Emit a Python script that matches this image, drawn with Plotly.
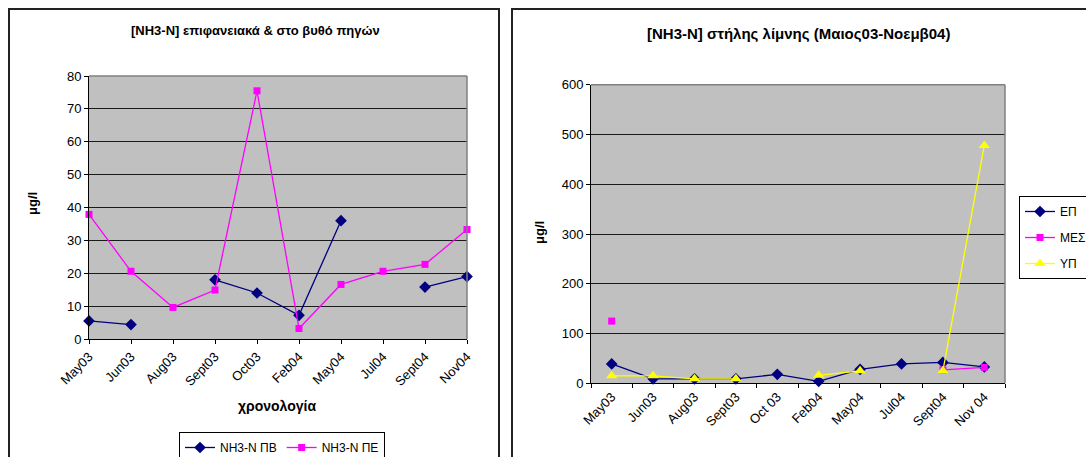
import plotly.graph_objects as go

W, H = 1086, 457

# Surface / bottom sampling at the springs
left_months = ["May03", "Jun03", "Aug03", "Sept03", "Oct03", "Feb04",
               "May04", "Jul04", "Sept04", "Nov04"]
nh3_pv = [5.5, 4.4, None, 18.0, 14.0, 7.2, 36.0, None, 15.8, 19.0]
nh3_pe = [37.9, 20.6, 9.6, 14.9, 75.5, 3.2, 16.6, 20.6, 22.7, 33.3]

# Lake water column (surface / middle / bottom)
right_months = ["May03", "Jun03", "Aug03", "Sept03", "Oct 03", "Feb04",
                "May04", "Jul04", "Sept04", "Nov 04"]
ep = [39, 9, 9, 9, 18, 4, 28, 39, 42, 33]
mes = [125, None, None, None, None, None, None, None, 27, 32]
yp = [15, 15, 9, 9, None, 16, 25, None, 25, 478]

FONT = "Arial, Liberation Sans, sans-serif"
NAVY, MAGENTA, YELLOW = "#000080", "#FF00FF", "#FFFF00"


def px(x):
    return x / W


def py(y):
    return 1 - y / H


fig = go.Figure()

# left chart traces
fig.add_trace(go.Scatter(
    x=left_months, y=nh3_pv, name="NH3-N ΠΒ", mode="lines+markers",
    line=dict(color=NAVY, width=1.3), marker=dict(symbol="diamond", size=9, color=NAVY),
    xaxis="x", yaxis="y", legend="legend", cliponaxis=False))
fig.add_trace(go.Scatter(
    x=left_months, y=nh3_pe, name="NH3-N ΠΕ", mode="lines+markers",
    line=dict(color=MAGENTA, width=1.3), marker=dict(symbol="square", size=7, color=MAGENTA),
    xaxis="x", yaxis="y", legend="legend", cliponaxis=False))

# right chart traces
fig.add_trace(go.Scatter(
    x=right_months, y=ep, name="ΕΠ", mode="lines+markers", legendgroup="a",
    line=dict(color=NAVY, width=1.3), marker=dict(symbol="diamond", size=9, color=NAVY),
    xaxis="x2", yaxis="y2", legend="legend2", cliponaxis=False))
fig.add_trace(go.Scatter(
    x=right_months, y=mes, name="ΜΕΣ", mode="lines+markers", legendgroup="b",
    line=dict(color=MAGENTA, width=1.3), marker=dict(symbol="square", size=7, color=MAGENTA),
    xaxis="x2", yaxis="y2", legend="legend2", cliponaxis=False))
fig.add_trace(go.Scatter(
    x=right_months, y=yp, name="ΥΠ", mode="lines+markers", legendgroup="c",
    line=dict(color=YELLOW, width=1.3), marker=dict(symbol="triangle-up", size=10, color=YELLOW),
    xaxis="x2", yaxis="y2", legend="legend2", cliponaxis=False))

axis_common = dict(
    showline=True, linecolor="black", linewidth=1,
    ticks="outside", ticklen=4, tickcolor="black",
    tickfont=dict(family=FONT, size=13, color="black"),
    zeroline=False,
)

fig.update_layout(
    width=W, height=H,
    margin=dict(l=0, r=0, t=0, b=0, autoexpand=False),
    paper_bgcolor="white",
    plot_bgcolor="#C0C0C0",
    font=dict(family=FONT, color="black"),
    xaxis=dict(domain=[px(89), px(467)], anchor="y", type="category",
               categoryorder="array", categoryarray=left_months,
               range=[0, 9], tickangle=-45, showgrid=False, **axis_common),
    yaxis=dict(domain=[py(339), py(76)], anchor="x", range=[0, 80], dtick=10,
               showgrid=True, gridcolor="#1a1a1a", gridwidth=1, **axis_common),
    xaxis2=dict(domain=[px(591), px(1005)], anchor="y2", type="category",
                categoryorder="array", categoryarray=right_months,
                range=[-0.5, 9.5], tickson="boundaries", tickangle=-45,
                showgrid=False, **axis_common),
    yaxis2=dict(domain=[py(383.3), py(84.7)], anchor="x2", range=[0, 600], dtick=100,
                showgrid=True, gridcolor="#1a1a1a", gridwidth=1, **axis_common),
    legend=dict(
        x=px(179), y=py(432), xanchor="left", yanchor="top",
        orientation="h", bgcolor="white", bordercolor="black", borderwidth=1,
        font=dict(family=FONT, size=12, color="black"), itemwidth=30,
    ),
    legend2=dict(
        x=px(1019), y=py(196), xanchor="left", yanchor="top",
        orientation="v", bgcolor="white", bordercolor="black", borderwidth=1,
        font=dict(family=FONT, size=12, color="black"), itemwidth=30,
        tracegroupgap=7,
    ),
    showlegend=True,
)

shapes = []
# chart frames
shapes.append(dict(type="rect", xref="paper", yref="paper",
                   x0=px(9), x1=px(499), y0=py(470), y1=py(9),
                   line=dict(color="#222222", width=2), layer="below"))
shapes.append(dict(type="rect", xref="paper", yref="paper",
                   x0=px(512), x1=px(1100), y0=py(470), y1=py(9),
                   line=dict(color="#222222", width=2), layer="below"))
# plot area borders (grey top and right edges)
for xa, ya in (("x", "y"), ("x2", "y2")):
    shapes.append(dict(type="line", xref=f"{xa} domain", yref=f"{ya} domain",
                       x0=0, x1=1, y0=1, y1=1, line=dict(color="#808080", width=1.5)))
    shapes.append(dict(type="line", xref=f"{xa} domain", yref=f"{ya} domain",
                       x0=1, x1=1, y0=0, y1=1, line=dict(color="#808080", width=1.5)))
fig.update_layout(shapes=shapes)


def label(text, x, y, size, angle=0):
    return dict(text=text, x=px(x), y=py(y), xref="paper", yref="paper",
                xanchor="center", yanchor="middle", showarrow=False,
                textangle=angle, font=dict(family=FONT, size=size, color="black"))


annotations = [
    label("<b>[NH3-N] επιφανειακά & στο βυθό πηγών</b>", 255, 30, 13),
    label("<b>[NH3-N] στήλης λίμνης (Μαιος03-Νοεμβ04)</b>", 798, 33, 15),
    label("<b>μg/l</b>", 33, 204, 13, -90),
    label("<b>μg/l</b>", 540, 233, 13, -90),
    label("<b>χρονολογία</b>", 277, 406, 14),
]
fig.update_layout(annotations=annotations)

fig.write_html("out.html")
